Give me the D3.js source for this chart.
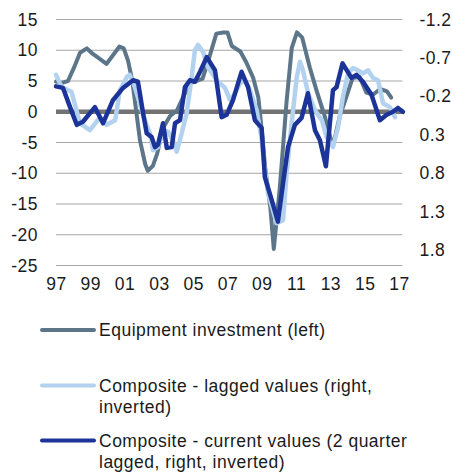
<!DOCTYPE html>
<html>
<head>
<meta charset="utf-8">
<script src="https://cdn.jsdelivr.net/npm/d3@7"></script>
<style>
  html, body { margin: 0; padding: 0; background: #fff; }
  svg { display: block; font-family: "Liberation Sans", Arial, sans-serif; }
</style>
</head>
<body>
<svg id="chart" width="452" height="472"></svg>
<script>
// ---- Data ----
const leftTicks = [15, 10, 5, 0, -5, -10, -15, -20, -25];
const rightTicks = [-1.2, -0.7, -0.2, 0.3, 0.8, 1.3, 1.8];
const xTickYears = [1997, 1999, 2001, 2003, 2005, 2007, 2009, 2011, 2013, 2015, 2017];
const xTickLabels = ["97", "99", "01", "03", "05", "07", "09", "11", "13", "15", "17"];

const legendLabels = [
  ["Equipment investment (left)"],
  ["Composite - lagged values (right,", "inverted)"],
  ["Composite - current values (2 quarter", "lagged, right, inverted)"]
];

// Equipment investment (left axis)
const equipYears = [1997.0, 1997.35, 1997.7, 1998.1, 1998.4, 1998.8, 1999.15, 1999.55, 1999.95, 2000.3, 2000.7, 2000.95,
  2001.2, 2001.45, 2001.6, 2001.9, 2002.2, 2002.35, 2002.65, 2002.9, 2003.25, 2003.65, 2004.05, 2004.4, 2004.8,
  2005.2, 2005.55, 2006.0, 2006.35, 2006.75, 2007.0, 2007.25, 2007.75, 2008.1, 2008.5, 2008.8, 2009.0, 2009.2,
  2009.5, 2009.7, 2010.05, 2010.45, 2010.75, 2011.05, 2011.35, 2011.8, 2012.2, 2012.7, 2013.05, 2013.25, 2013.55,
  2013.95, 2014.3, 2014.7, 2015.1, 2015.5, 2015.9, 2016.3, 2016.55];
const equipValues = [4.9, 4.7, 5.0, 7.5, 9.6, 10.3, 9.4, 8.6, 7.8, 9.1, 10.6, 10.3,
  8.3, 5.0, 1.8, -4.7, -8.5, -9.6, -8.8, -6.8, -2.6, -0.7, 0.2, 2.3, 4.6,
  5.0, 5.4, 9.4, 12.7, 12.9, 12.9, 10.7, 9.8, 8.0, 5.5, 2.3, -3.1, -9.1,
  -15.6, -22.3, -12.4, 1.8, 10.4, 12.9, 12.1, 7.2, 3.4, -1.0, -4.7, -4.4, -0.7,
  2.6, 5.5, 5.7, 3.1, 2.8, 3.7, 3.3, 2.3];

// Composite - lagged values (right axis, inverted)
const laggedYears = [1997.0, 1997.33, 1997.9, 1998.4, 1998.98, 1999.57, 1999.95, 2000.45, 2000.73, 2001.12, 2001.3,
  2001.6, 2001.99, 2002.28, 2002.48, 2002.66, 2002.95, 2003.24, 2003.53, 2003.82, 2004.04, 2004.33, 2004.62,
  2004.91, 2005.1, 2005.28, 2005.57, 2005.86, 2006.37, 2006.85, 2007.15, 2007.44, 2007.73, 2008.02, 2008.31,
  2008.7, 2009.0, 2009.18, 2009.36, 2009.87, 2010.24, 2010.45, 2010.74, 2011.04, 2011.23, 2011.4, 2011.7,
  2012.1, 2012.5, 2012.78, 2013.15, 2013.45, 2013.73, 2014.03, 2014.32, 2014.6, 2014.9, 2015.2, 2015.48,
  2015.78, 2016.07, 2016.47, 2016.77];
const laggedValues = [-0.48, -0.32, -0.26, 0.15, 0.24, 0.07, 0.17, 0.11, -0.28, -0.45, -0.48,
  -0.32, -0.02, 0.17, 0.28, 0.50, 0.46, 0.24, 0.26, 0.37, 0.52, 0.28, 0.02,
  -0.45, -0.80, -0.87, -0.78, -0.58, -0.41, -0.31, -0.15, -0.24, -0.37, -0.41, -0.28,
  -0.02, 0.37, 0.76, 1.06, 1.45, 1.41, 0.80, 0.15, -0.45, -0.65, -0.54, -0.24,
  -0.02, 0.11, 0.33, 0.46, 0.20, -0.19, -0.50, -0.57, -0.54, -0.50, -0.54, -0.44,
  -0.41, -0.11, -0.06, 0.07];

// Composite - current values, 2 quarter lagged (right axis, inverted)
const currentYears = [1997.0, 1997.41, 1997.82, 1998.21, 1998.57, 1999.27, 1999.74, 2000.32, 2000.91, 2001.49, 2001.78,
  2002.08, 2002.29, 2002.58, 2002.77, 2002.95, 2003.24, 2003.46, 2003.75, 2003.94, 2004.23, 2004.52, 2004.81,
  2005.1, 2005.4, 2005.79, 2006.27, 2006.66, 2006.95, 2007.32, 2007.82, 2008.2, 2008.6, 2008.99, 2009.18,
  2009.58, 2009.94, 2010.24, 2010.53, 2010.93, 2011.32, 2011.69, 2012.1, 2012.39, 2012.74, 2013.15, 2013.36,
  2013.71, 2014.23, 2014.52, 2014.9, 2015.4, 2015.89, 2016.28, 2016.65, 2016.94, 2017.23];
const currentValues = [-0.33, -0.31, -0.06, 0.17, 0.13, -0.06, 0.15, -0.15, -0.31, -0.41, -0.39,
  0.02, 0.28, 0.33, 0.46, 0.43, 0.15, 0.47, 0.46, 0.15, 0.11, -0.32, -0.41,
  -0.39, -0.52, -0.71, -0.54, 0.07, 0.04, -0.15, -0.52, -0.32, 0.11, 0.21, 0.85,
  1.15, 1.43, 0.93, 0.46, 0.17, 0.08, -0.24, 0.24, 0.37, 0.71, -0.28, -0.32,
  -0.63, -0.44, -0.48, -0.39, -0.22, 0.11, 0.04, 0.00, -0.05, 0.00];

// ---- Layout ----
const plotTop = 19.5, plotBottom = 265.5, plotLeft = 56, plotRight = 402.4;
const colors = { equip: "#5c7589", lagged: "#b3d2f0", current: "#1c3498", zero: "#737373", grid: "#a6a6a6", text: "#1a1a1a" };
const FONT = 17.5, SPACING = 0.5;

const svg = d3.select("#chart");

const x = d3.scaleLinear().domain([1997, 2017.2]).range([plotLeft, plotRight]);
const yL = d3.scaleLinear().domain([15, -25]).range([plotTop, plotBottom]);
const yR = d3.scaleLinear().domain([-1.2, 2.0]).range([plotTop, plotBottom]);

const hyphen = s => s.replace("\u2212", "-");

function styleText(sel) {
  sel.attr("font-size", FONT).attr("fill", colors.text)
    .attr("letter-spacing", SPACING)
    .attr("font-family", "Liberation Sans, Arial, sans-serif");
}

// Gridlines
svg.append("g").selectAll("line").data(leftTicks.filter(d => d !== 0)).join("line")
  .attr("x1", plotLeft).attr("x2", plotRight)
  .attr("y1", d => yL(d)).attr("y2", d => yL(d))
  .attr("stroke", colors.grid).attr("stroke-width", 1);

// Left axis
const leftAxis = d3.axisLeft(yL).tickValues(leftTicks).tickSize(0).tickPadding(0)
  .tickFormat(d => hyphen(d3.format("d")(d)));
const gL = svg.append("g").attr("transform", `translate(${plotLeft - 18},0)`).call(leftAxis);
gL.select(".domain").remove();
styleText(gL.selectAll("text"));

// Right axis
const rightAxis = d3.axisRight(yR).tickValues(rightTicks).tickSize(0).tickPadding(0)
  .tickFormat(d => hyphen(d3.format(".1f")(d)));
const gR = svg.append("g").attr("transform", `translate(${plotRight + 17},0)`).call(rightAxis);
gR.select(".domain").remove();
styleText(gR.selectAll("text"));

// Bottom axis
const bottomAxis = d3.axisBottom(x).tickValues(xTickYears).tickSize(0).tickPadding(0)
  .tickFormat((d, i) => xTickLabels[i]);
const gB = svg.append("g").attr("transform", `translate(0,${plotBottom + 12})`).call(bottomAxis);
gB.select(".domain").remove();
styleText(gB.selectAll("text"));

// Zero line
svg.append("line")
  .attr("x1", plotLeft).attr("x2", plotRight)
  .attr("y1", yL(0)).attr("y2", yL(0))
  .attr("stroke", colors.zero).attr("stroke-width", 4.5);

// Series
const lineL = d3.line().x(d => x(d[0])).y(d => yL(d[1])).curve(d3.curveLinear);
const lineR = d3.line().x(d => x(d[0])).y(d => yR(d[1])).curve(d3.curveLinear);

svg.append("path").datum(d3.zip(equipYears, equipValues))
  .attr("d", lineL).attr("fill", "none").attr("stroke", colors.equip)
  .attr("stroke-width", 4).attr("stroke-linejoin", "round").attr("stroke-linecap", "round");

svg.append("path").datum(d3.zip(laggedYears, laggedValues))
  .attr("d", lineR).attr("fill", "none").attr("stroke", colors.lagged)
  .attr("stroke-width", 4.5).attr("stroke-linejoin", "round").attr("stroke-linecap", "round");

svg.append("path").datum(d3.zip(currentYears, currentValues))
  .attr("d", lineR).attr("fill", "none").attr("stroke", colors.current)
  .attr("stroke-width", 4.5).attr("stroke-linejoin", "round").attr("stroke-linecap", "round");

// Legend
const legendColors = [colors.equip, colors.lagged, colors.current];
const legendY = [330, 385.5, 440.5];
const lg = svg.append("g");
legendLabels.forEach((lines, i) => {
  lg.append("line")
    .attr("x1", 42).attr("x2", 94)
    .attr("y1", legendY[i]).attr("y2", legendY[i])
    .attr("stroke", legendColors[i]).attr("stroke-width", 4).attr("stroke-linecap", "round");
  const t = lg.append("text")
    .attr("x", 99).attr("y", legendY[i] + 6);
  styleText(t);
  lines.forEach((ln, j) => {
    t.append("tspan").attr("x", 99).attr("dy", j === 0 ? 0 : 21.5).text(ln);
  });
});
</script>
</body>
</html>
